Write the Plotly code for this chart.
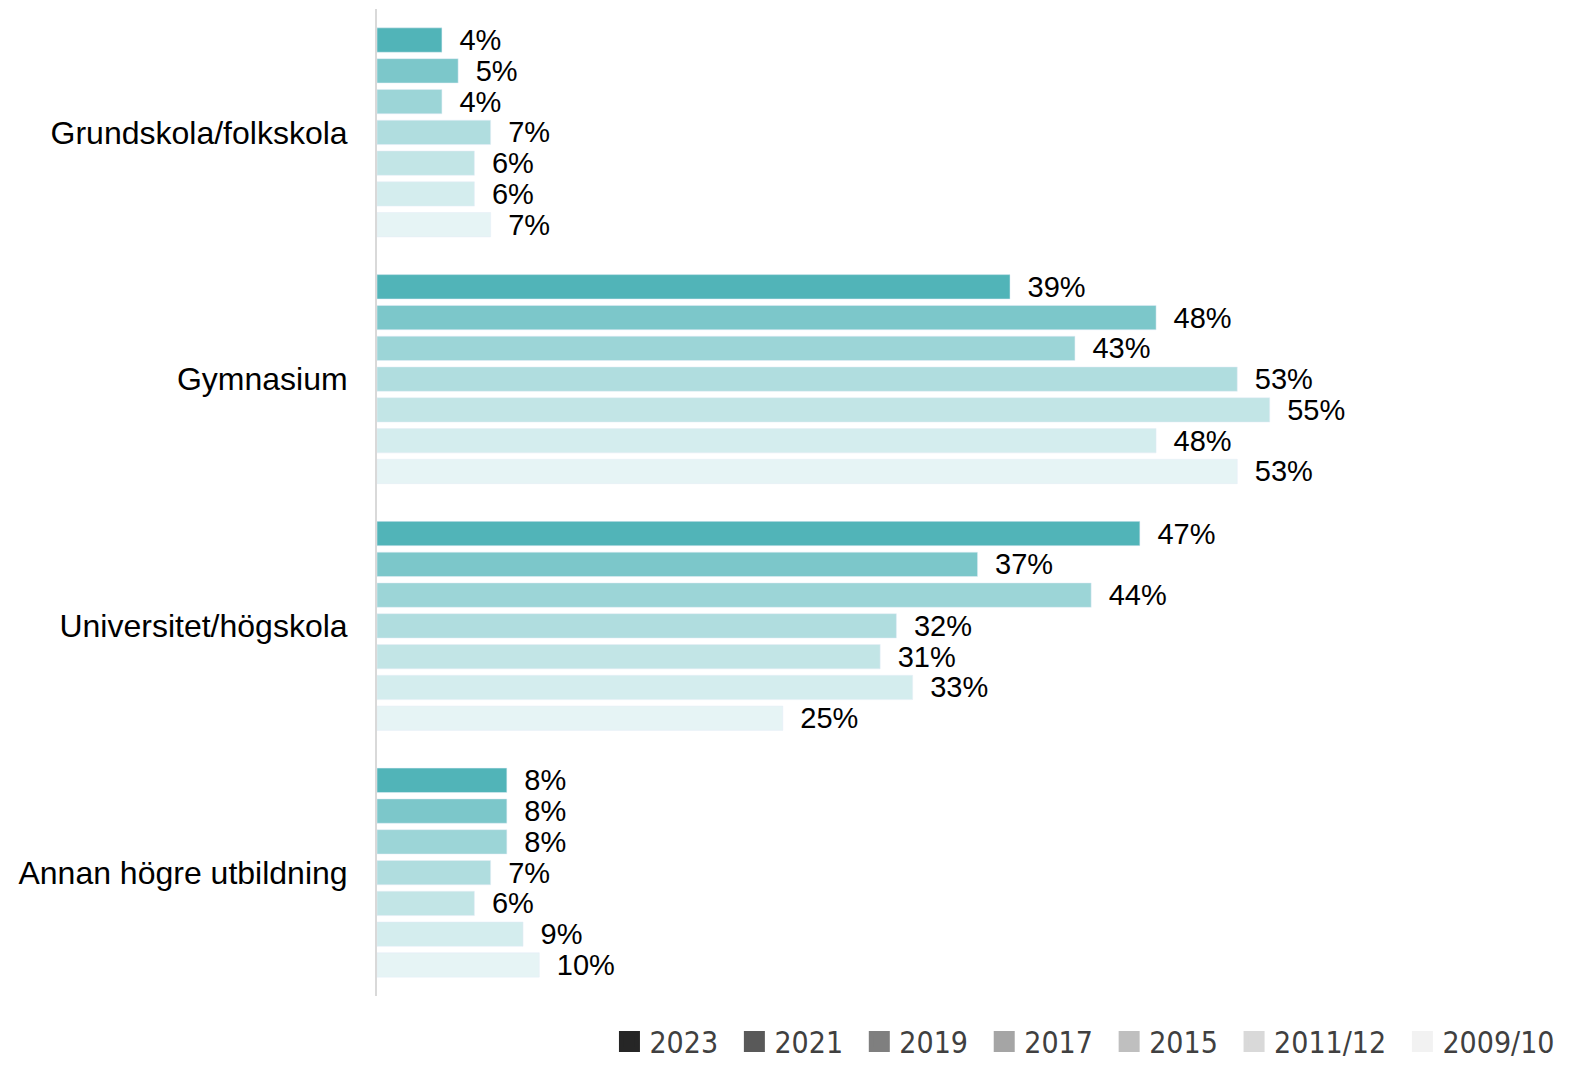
import plotly.graph_objects as go

# Data
categories = ["Grundskola/folkskola", "Gymnasium", "Universitet/högskola", "Annan högre utbildning"]
years = ["2023", "2021", "2019", "2017", "2015", "2011/12", "2009/10"]

values = {
    "2023":    [4, 39, 47, 8],
    "2021":    [5, 48, 37, 8],
    "2019":    [4, 43, 44, 8],
    "2017":    [7, 53, 32, 7],
    "2015":    [6, 55, 31, 6],
    "2011/12": [6, 48, 33, 9],
    "2009/10": [7, 53, 25, 10],
}

bar_colors = ["#51B4B8", "#7CC7CA", "#9CD5D7", "#B0DDDF", "#C2E5E6", "#D4EDEE", "#E6F4F5"]
legend_colors = ["#262626", "#595959", "#7F7F7F", "#A5A5A5", "#BFBFBF", "#D9D9D9", "#F2F2F2"]

fig = go.Figure()

# Bars (teal shades), hidden from legend
for yr, col in zip(years, bar_colors):
    vals = values[yr]
    fig.add_trace(go.Bar(
        y=categories,
        x=vals,
        orientation="h",
        marker=dict(color=col),
        text=[f"\u2002{v}%" for v in vals],
        textposition="outside",
        textfont=dict(family="Liberation Sans, Arial, sans-serif", size=29, color="#000000"),
        constraintext="none",
        cliponaxis=False,
        showlegend=False,
        name=yr,
    ))

# Legend entries (grey squares, as in the original)
for i, (yr, col) in enumerate(zip(years, legend_colors)):
    label = yr if i == len(years) - 1 else yr + "\u00a0\u200a"
    fig.add_trace(go.Scatter(
        x=[None], y=[None],
        mode="markers",
        marker=dict(symbol="square", size=22, color=col, line=dict(color=col, width=5)),
        name=label,
        showlegend=True,
    ))

# page body has an 8px margin, so the figure is offset by 8px
fig.update_layout(
    width=1572,
    height=1057,
    margin=dict(l=369, r=10, t=0.5, b=68.5, autoexpand=False),
    paper_bgcolor="white",
    plot_bgcolor="white",
    barmode="group",
    bargap=0.127,
    bargroupgap=0.208,
    legend=dict(
        orientation="h",
        x=0.992, xanchor="right",
        y=-0.046, yanchor="middle",
        font=dict(family="Liberation Sans Narrow, DejaVu Sans Condensed, Liberation Sans, sans-serif",
                  size=30, color="#404040"),
        bgcolor="rgba(0,0,0,0)",
    ),
    font=dict(family="Liberation Sans, Arial, sans-serif", color="#000000"),
)

fig.update_xaxes(range=[0, 73.5], showticklabels=False, showgrid=False, zeroline=False, showline=False)
fig.update_yaxes(
    autorange="reversed",
    showgrid=False,
    zeroline=False,
    showline=True,
    linecolor="#D9D9D9",
    linewidth=2,
    ticks="",
    ticklabelstandoff=21,
    automargin=False,
    tickfont=dict(family="Liberation Sans, Arial, sans-serif", size=32, color="#000000"),
)

fig.write_html("out.html")
